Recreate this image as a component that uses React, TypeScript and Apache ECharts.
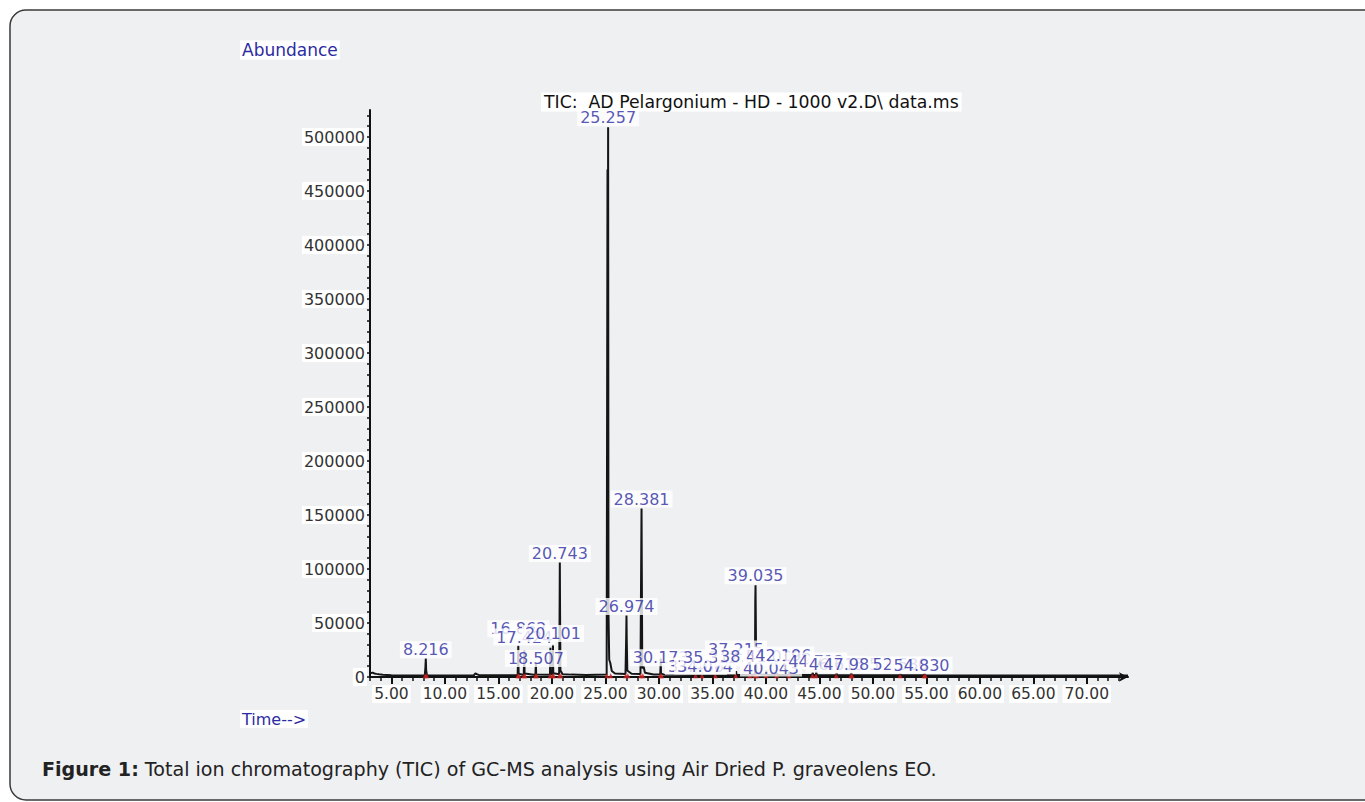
import React, { useEffect, useRef } from "react";
import * as echarts from "echarts";

// ---- data ----
const ticTime = [
  3.0, 3.12, 3.25, 3.4, 3.6, 3.85, 4.2, 4.6, 5.0, 6.5, 8.12, 8.18, 8.216, 8.25, 8.32, 10.5,
  12.7, 12.85, 12.98, 13.2, 15.5, 16.8, 16.84, 16.862, 16.89, 17.37, 17.4, 17.424, 17.45,
  18.46, 18.485, 18.507, 18.53, 19.82, 19.845, 19.86, 19.89, 20.07, 20.09, 20.101, 20.13,
  20.68, 20.72, 20.743, 20.765, 20.8, 21.0, 21.8, 23.2, 25.12, 25.2, 25.23, 25.257, 25.29,
  25.36, 25.46, 25.6, 25.9, 26.88, 26.95, 26.974, 26.995, 27.05, 27.2, 27.45, 28.28, 28.35,
  28.381, 28.405, 28.45, 28.58, 28.7, 29.5, 30.13, 30.16, 30.173, 30.2, 30.5, 33.42, 33.466,
  33.5, 34.03, 34.074, 34.12, 35.27, 35.312, 35.35, 37.17, 37.215, 37.26, 38.48, 38.517, 38.55,
  38.98, 39.01, 39.035, 39.055, 39.1, 39.3, 40.0, 40.043, 40.09, 41.0, 41.036, 41.07, 42.15,
  42.196, 42.24, 44.34, 44.382, 44.42, 44.67, 44.712, 44.75, 46.57, 46.615, 46.65, 47.94,
  47.985, 48.03, 52.54, 52.58, 52.62, 54.79, 54.83, 54.87, 62.0, 73.85,
];
const ticAbundance = [
  4200, 3600, 4100, 3300, 2900, 2500, 2100, 1900, 1700, 1500, 1500, 9000, 17000, 6000, 1600, 1500,
  1600, 3400, 2600, 1700, 1600, 1700, 17000, 29000, 3000, 1800, 14000, 25000, 3200,
  1900, 8000, 12500, 2400, 2000, 16000, 27000, 2600, 2200, 19000, 30000, 3500,
  2500, 57000, 106000, 60000, 6000, 2600, 2200, 1900, 2200, 470000, 220000, 509000, 60000,
  16000, 13000, 5500, 3200, 2800, 39000, 57000, 36000, 6000, 4800, 3000, 2800, 111000,
  156000, 100000, 8000, 9500, 4000, 2300, 2200, 11000, 17000, 3000, 2100, 1900, 4500,
  1900, 1900, 5000, 1900, 1900, 4000, 1900, 1900, 5500, 1900, 1900, 4000, 2000,
  2000, 69000, 85000, 62000, 4500, 2600, 2000, 6000, 2000, 1900, 3500, 1900, 1900,
  5000, 1900, 1800, 4500, 1800, 1800, 5000, 1800, 1700, 3500, 1700, 1700,
  4000, 1700, 1600, 3000, 1600, 1600, 3500, 1600, 1500, 1500,
];

const peakTimes = [
  8.216, 16.862, 17.424, 18.507, 20.101, 20.743, 25.257, 26.974, 28.381, 30.173, 33.466,
  34.074, 35.312, 37.215, 38.517, 39.035, 40.043, 41.036, 42.196, 44.712, 46.615, 47.985,
  52.58, 54.83,
];
const peakHeights = [
  17000, 29000, 25000, 12500, 30000, 106000, 509000, 57000, 156000, 17000, 4500,
  5000, 4000, 5500, 4000, 85000, 6000, 3500, 5000, 5000, 3500, 4000,
  3000, 3500,
];
const peakLabels = [
  "8.216", "16.862", "17.424", "18.507", "20.101", "20.743", "25.257", "26.974", "28.381",
  "30.173", "33.466", "34.074", "35.312", "37.215", "38.517", "39.035", "40.043", "41.036",
  "42.196", "44.712", "46.615", "47.985", "52.580", "54.830",
];

const integrationTimes = [
  8.15, 8.3, 16.82, 16.91, 17.38, 17.48, 18.47, 18.56, 19.83, 20.08, 20.16, 20.69, 20.84,
  25.14, 25.5, 26.9, 27.1, 28.3, 28.5, 30.14, 30.25, 33.43, 34.04, 35.28, 37.18, 38.49,
  38.99, 39.15, 40.01, 41.01, 42.16, 44.35, 44.68, 46.58, 47.95, 48.06, 52.55, 54.8, 54.9,
];
const integrationLevel = 1200;

const xTickValues = [5, 10, 15, 20, 25, 30, 35, 40, 45, 50, 55, 60, 65, 70];
const yTickValues = [
  0, 50000, 100000, 150000, 200000, 250000, 300000, 350000, 400000, 450000, 500000,
];

const titleText = "TIC:  AD Pelargonium - HD - 1000 v2.D\\ data.ms";
const yName = "Abundance";
const xName = "Time-->";
const captionBold = "Figure 1:";
const captionRest = " Total ion chromatography (TIC) of GC-MS analysis using Air Dried P. graveolens EO.";

// ---- layout (pixel nudges of the stacked peak labels, centre relative to apex) ----
const labelShift: [number, number][] = [
  [0, -9], [0, -17], [0, -13], [0, -5], [0, -11], [0, -9], [0, -9.5], [0, -9], [0, -9.5],
  [0, -1], [0, -6], [2.6, -5.6], [-4.7, -14.7], [0, -22], [-2, -16], [0, -9.5], [4.7, -2.5],
  [-3, -17], [-6, -16.6], [0, -10.6], [0, -9], [0, -7.7], [0, -8.8], [-3, -8],
];

const FONT = "DejaVu Sans";
const LABEL_BLUE = "#2c2ca2";

export default function App() {
  const ref = useRef<HTMLDivElement>(null);

  useEffect(() => {
    document.body.style.margin = "0";
    const chart = echarts.init(ref.current!, null, { renderer: "svg" });

    const xMinor: number[] = [];
    for (let v = 3; v <= 73; v++) if (v % 5 !== 0) xMinor.push(v);
    const yMinor: number[] = [];
    for (let v = 0; v <= 520000; v += 10000) yMinor.push(v);

    const tic = ticTime.map((t, i) => [t, ticAbundance[i]]);
    const marks = integrationTimes.map((t) => [t, integrationLevel]);
    const labels = peakTimes.map((t, i) => ({
      value: [t, peakHeights[i]],
      name: peakLabels[i],
    }));

    const option: any = {
      animation: false,
      backgroundColor: "#ffffff",
      grid: { left: 370, right: 237, top: 110, bottom: 125, containLabel: false },
      xAxis: [
        {
          type: "value",
          min: 3,
          max: 73.85,
          position: "bottom",
          axisLine: {
            show: true,
            onZero: false,
            lineStyle: { color: "#111", width: 2 },
            symbol: ["none", "arrow"],
            symbolSize: [7, 9],
          },
          axisTick: {
            show: true,
            customValues: xTickValues,
            length: 7,
            lineStyle: { color: "#111", width: 2 },
          },
          axisLabel: {
            show: true,
            customValues: xTickValues,
            formatter: (v: number) => v.toFixed(2),
            fontFamily: FONT,
            fontSize: 15.5,
            color: "#333",
            backgroundColor: "#ffffff",
            padding: [1, 2, 1, 2],
            margin: 8,
          },
          splitLine: { show: false },
        },
        {
          type: "value",
          min: 3,
          max: 73.85,
          position: "bottom",
          axisLine: { show: false, onZero: false },
          axisTick: {
            show: true,
            customValues: xMinor,
            length: 4,
            lineStyle: { color: "#111", width: 1.5 },
          },
          axisLabel: { show: false },
          splitLine: { show: false },
        },
      ],
      yAxis: {
        type: "value",
        min: 0,
        max: 525000,
        axisLine: { show: true, onZero: false, lineStyle: { color: "#111", width: 2 } },
        axisTick: {
          show: true,
          customValues: yMinor,
          length: 3,
          lineStyle: { color: "#111", width: 1.5 },
        },
        axisLabel: {
          show: true,
          customValues: yTickValues,
          formatter: (v: number) => String(v),
          fontFamily: FONT,
          fontSize: 16,
          color: "#333",
          backgroundColor: "#ffffff",
          padding: [1, 2, 1, 2],
          margin: 3,
        },
        splitLine: { show: false },
      },
      graphic: [
        {
          type: "rect",
          z: -10,
          silent: true,
          shape: { x: 10, y: 10, width: 1400, height: 790, r: 16 },
          style: { fill: "#eff0f2", stroke: "#3a3a3a", lineWidth: 1.5 },
        },
        {
          type: "text",
          x: 240,
          y: 50,
          style: {
            text: yName,
            fontFamily: FONT,
            fontSize: 17,
            fill: LABEL_BLUE,
            backgroundColor: "#ffffff",
            padding: [1, 2, 1, 2],
            verticalAlign: "middle",
          },
        },
        {
          type: "text",
          x: 541,
          y: 102,
          style: {
            text: titleText,
            fontFamily: FONT,
            fontSize: 17.3,
            fill: "#111",
            backgroundColor: "#ffffff",
            padding: [1, 3, 1, 3],
            verticalAlign: "middle",
          },
        },
        {
          type: "text",
          x: 240,
          y: 719,
          style: {
            text: xName,
            fontFamily: FONT,
            fontSize: 16,
            fill: LABEL_BLUE,
            backgroundColor: "#ffffff",
            padding: [1, 2, 1, 2],
            verticalAlign: "middle",
          },
        },
        {
          type: "text",
          x: 42,
          y: 769,
          style: {
            text: "{b|" + captionBold + "}{r|" + captionRest + "}",
            verticalAlign: "middle",
            rich: {
              b: { fontFamily: FONT, fontSize: 19.1, fontWeight: "bold", fill: "#222" },
              r: { fontFamily: FONT, fontSize: 19.1, fill: "#222" },
            },
          },
        },
      ],
      series: [
        {
          type: "line",
          name: "TIC",
          data: tic,
          xAxisIndex: 0,
          yAxisIndex: 0,
          symbol: "none",
          lineStyle: { color: "#151515", width: 2 },
          z: 3,
          silent: true,
        },
        {
          type: "scatter",
          name: "integration",
          data: marks,
          symbol: "triangle",
          symbolSize: 5,
          itemStyle: { color: "#c82020" },
          z: 4,
          silent: true,
        },
        {
          type: "scatter",
          name: "peaks",
          data: labels,
          symbolSize: 0,
          z: 5,
          silent: true,
          label: {
            show: true,
            position: "inside",
            formatter: (p: any) => p.name,
            fontFamily: FONT,
            fontSize: 16,
            lineHeight: 15,
            color: LABEL_BLUE,
            backgroundColor: "#ffffff",
            padding: [1, 3, 1, 3],
          },
          labelLayout: (params: any) => ({
            dx: labelShift[params.dataIndex][0],
            dy: labelShift[params.dataIndex][1],
            hideOverlap: false,
          }),
        },
      ],
    };

    chart.setOption(option);
    return () => chart.dispose();
  }, []);

  return <div ref={ref} style={{ width: 1365, height: 802 }} />;
}
